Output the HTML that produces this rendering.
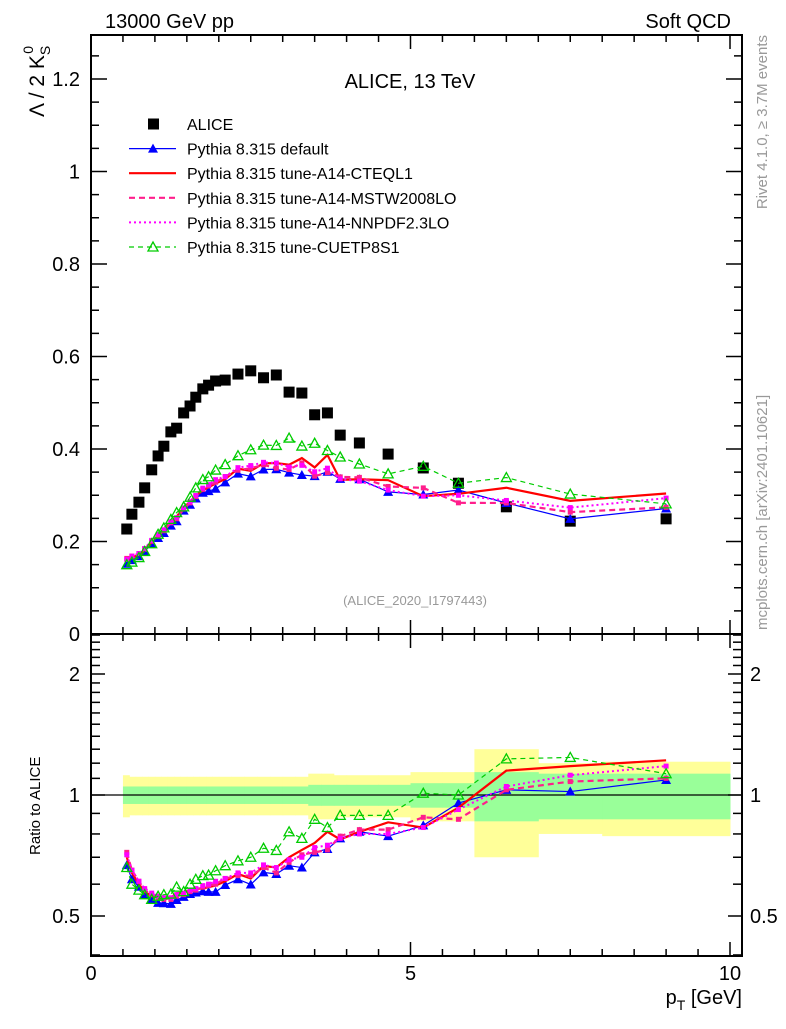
<!DOCTYPE html>
<html><head><meta charset="utf-8">
<style>
body{margin:0;background:#fff;}
svg text{font-family:"Liberation Sans",sans-serif;}
</style></head>
<body>
<svg id="chart" width="786" height="1024" xmlns="http://www.w3.org/2000/svg">
<rect width="786" height="1024" fill="#fff"/>
<g id="ratioBands"></g>
<g id="marks"></g>
<g id="axes"></g>
<text x="105" y="28" font-size="20">13000 GeV pp</text>
<text x="731" y="28" font-size="20" text-anchor="end">Soft QCD</text>
<text x="410" y="88" font-size="20" text-anchor="middle">ALICE, 13 TeV</text>
<text x="415" y="605" font-size="13" fill="#999" text-anchor="middle">(ALICE_2020_I1797443)</text>
<text transform="translate(767,35) rotate(-90)" font-size="15" fill="#999" text-anchor="end">Rivet 4.1.0, ≥ 3.7M events</text>
<text transform="translate(767,630) rotate(-90)" font-size="15" fill="#999">mcplots.cern.ch [arXiv:2401.10621]</text>
<text transform="translate(44,117) rotate(-90)" font-size="21">Λ / 2 K<tspan font-size="14" dy="6">S</tspan><tspan font-size="14" dx="-8" dy="-17">0</tspan></text>
<text transform="translate(40,855) rotate(-90)" font-size="15">Ratio to ALICE</text>
<text x="742" y="1004" font-size="20" text-anchor="end">p<tspan font-size="14" dy="6">T</tspan><tspan dy="-6"> [GeV]</tspan></text>
<g id="legend"></g>
</svg>
<script>
const xVals=[0.56,0.64,0.75,0.84,0.95,1.05,1.14,1.25,1.34,1.45,1.55,1.64,1.75,1.84,1.95,2.1,2.3,2.5,2.7,2.9,3.1,3.3,3.5,3.7,3.9,4.2,4.65,5.2,5.75,6.5,7.5,9.0];
const binEdges=[0.5,0.6,0.7,0.8,0.9,1.0,1.1,1.2,1.3,1.4,1.5,1.6,1.7,1.8,1.9,2.0,2.2,2.4,2.6,2.8,3.0,3.2,3.4,3.6,3.8,4.0,4.5,5.0,5.5,6.0,7.0,8.0,10.0];
const aliceVals=[0.227,0.259,0.285,0.316,0.355,0.385,0.406,0.437,0.445,0.478,0.493,0.512,0.530,0.538,0.547,0.549,0.562,0.569,0.554,0.560,0.523,0.521,0.474,0.478,0.430,0.413,0.389,0.359,0.326,0.275,0.244,0.249];
const statErr=[0.05,0.05,0.05,0.05,0.05,0.05,0.05,0.05,0.05,0.05,0.05,0.05,0.05,0.05,0.05,0.05,0.05,0.05,0.05,0.05,0.05,0.05,0.06,0.06,0.06,0.06,0.06,0.07,0.07,0.14,0.13,0.13];
const totErr=[0.12,0.11,0.11,0.11,0.11,0.11,0.11,0.11,0.11,0.11,0.11,0.11,0.11,0.11,0.11,0.11,0.11,0.11,0.11,0.11,0.11,0.11,0.13,0.13,0.12,0.12,0.12,0.14,0.14,0.3,0.2,0.21];
const ratioDefault=[0.669,0.617,0.591,0.567,0.548,0.539,0.538,0.536,0.548,0.558,0.567,0.572,0.576,0.574,0.574,0.597,0.617,0.599,0.642,0.636,0.667,0.660,0.72,0.734,0.78,0.81,0.79,0.84,0.955,1.03,1.02,1.09];
const ratioCTEQ=[0.70,0.64,0.60,0.575,0.56,0.555,0.55,0.555,0.57,0.572,0.58,0.585,0.585,0.59,0.595,0.61,0.636,0.62,0.666,0.66,0.70,0.73,0.76,0.81,0.775,0.81,0.855,0.83,0.93,1.15,1.18,1.22];
const ratioMSTW=[0.72,0.65,0.61,0.58,0.565,0.555,0.55,0.55,0.56,0.565,0.575,0.58,0.59,0.595,0.60,0.62,0.63,0.63,0.66,0.64,0.68,0.71,0.72,0.73,0.79,0.82,0.82,0.88,0.87,1.03,1.08,1.10];
const ratioNNPDF=[0.71,0.65,0.61,0.585,0.57,0.56,0.555,0.555,0.565,0.57,0.58,0.585,0.595,0.60,0.61,0.62,0.64,0.64,0.67,0.66,0.69,0.70,0.74,0.75,0.78,0.80,0.80,0.83,0.92,1.05,1.12,1.18];
const ratioCUETP=[0.66,0.60,0.58,0.565,0.55,0.56,0.565,0.567,0.59,0.575,0.60,0.617,0.63,0.632,0.648,0.667,0.686,0.70,0.737,0.728,0.81,0.78,0.87,0.83,0.89,0.89,0.89,1.01,1.0,1.23,1.24,1.13];
const mainTicks=["0","0.2","0.4","0.6","0.8","1","1.2"];
const ratioTicks=["0.5","1","2"];
const xTicks=["0","5","10"];

const NS="http://www.w3.org/2000/svg";
const L=91,R=742,T=35,MB=634,RB=956;
const X=v=>91+v*63.9;
const Y=v=>634-v*462.5;
const RY=r=>795-121*Math.log2(r);
function mk(tag,attrs,parent){const e=document.createElementNS(NS,tag);for(const k in attrs)e.setAttribute(k,attrs[k]);parent.appendChild(e);return e;}
const bands=document.getElementById('ratioBands'),marks=document.getElementById('marks'),axes=document.getElementById('axes'),legend=document.getElementById('legend');

const edges=binEdges;
for(let i=0;i<xVals.length;i++){
  const y=mk('rect',{x:X(edges[i]),width:X(edges[i+1])-X(edges[i])+0.5,y:RY(1+totErr[i]),height:RY(1-totErr[i])-RY(1+totErr[i]),fill:'#ffff99'},bands);
  
  
}
for(let i=0;i<xVals.length;i++){
  const g=mk('rect',{x:X(edges[i]),width:X(edges[i+1])-X(edges[i])+0.5,y:RY(1+statErr[i]),height:RY(1-statErr[i])-RY(1+statErr[i]),fill:'#99ff99'},bands);
  
  
}
const one=mk('line',{x1:L,x2:R,y1:RY(1),y2:RY(1),stroke:'#000','stroke-width':1.2},bands);



const series=[
 {name:'default',r:ratioDefault,color:'#0000ff',w:1.2,dash:'',marker:'tri'},
 {name:'cteql1',r:ratioCTEQ,color:'#ff0000',w:2.2,dash:'',marker:'none'},
 {name:'mstw2008lo',r:ratioMSTW,color:'#ff1e8c',w:2.2,dash:'6,4',marker:'sq'},
 {name:'nnpdf23lo',r:ratioNNPDF,color:'#ff00ff',w:2,dash:'2,3',marker:'sq'},
 {name:'cuetp8s1',r:ratioCUETP,color:'#00cc00',w:1.2,dash:'5,4',marker:'otri'}
];
function drawMarker(s,cx,cy,g){
  let e=null;
  if(s.marker==='tri')e=mk('path',{d:`M${cx-5},${cy+4}L${cx+5},${cy+4}L${cx},${cy-5}Z`,fill:s.color},g);
  else if(s.marker==='otri')e=mk('path',{d:`M${cx-5},${cy+4}L${cx+5},${cy+4}L${cx},${cy-5}Z`,fill:'none',stroke:s.color,'stroke-width':1.3},g);
  else if(s.marker==='sq')e=mk('rect',{x:cx-2.5,y:cy-2.5,width:5,height:5,fill:s.color},g);
  if(e){}
}
aliceVals.forEach((v,i)=>{
  const s=mk('rect',{x:X(xVals[i])-5.5,y:Y(v)-5.5,width:11,height:11,fill:'#000'},marks);
  
  
});
series.forEach(s=>{
  const g=mk('g',{},marks);
  
  
  const mainPts=s.r.map((r,i)=>X(xVals[i])+','+Y(r*aliceVals[i])).join(' ');
  const ratioPts=s.r.map((r,i)=>X(xVals[i])+','+RY(r)).join(' ');
  const a={fill:'none',stroke:s.color,'stroke-width':s.w};if(s.dash)a['stroke-dasharray']=s.dash;
  const l1=mk('polyline',Object.assign({points:mainPts},a),g);
  
  
  const l2=mk('polyline',Object.assign({points:ratioPts},a),g);
  
  
  s.r.forEach((r,i)=>{drawMarker(s,X(xVals[i]),Y(r*aliceVals[i]),g);drawMarker(s,X(xVals[i]),RY(r),g);});
});

[[T,MB],[MB,RB]].forEach(([t,b],k)=>{
  const f=mk('rect',{x:L,y:t,width:R-L,height:b-t,fill:'none',stroke:'#000','stroke-width':2},axes);
  
  
  for(let v=0;v<=10.01;v+=0.5){
    const major=Math.abs(v-Math.round(v/5)*5)<0.01, len=major?14:7;
    mk('line',{x1:X(v),x2:X(v),y1:b,y2:b-len,stroke:'#000','stroke-width':1.5},axes);
    mk('line',{x1:X(v),x2:X(v),y1:t,y2:t+len,stroke:'#000','stroke-width':1.5},axes);
  }
});
for(let v=0;v<=1.3;v+=0.05){
  const major=Math.abs(v/0.2-Math.round(v/0.2))<0.01, len=major?16:8;
  const y=Y(v); if(y<T)continue;
  mk('line',{x1:L,x2:L+len,y1:y,y2:y,stroke:'#000','stroke-width':1.5},axes);
  mk('line',{x1:R,x2:R-len,y1:y,y2:y,stroke:'#000','stroke-width':1.5},axes);
}
mainTicks.forEach((t,i)=>{
  const e=mk('text',{x:80,y:Y(parseFloat(t))+7,'font-size':20,'text-anchor':'end'},axes);
  e.textContent=t;
  
  
});
[0.4,0.5,0.6,0.7,0.8,0.9,1,1.1,1.2,1.3,1.4,1.5,1.6,1.7,1.8,1.9,2,2.1,2.2,2.3,2.4,2.5].forEach(r=>{
  const major=[0.5,1,2].includes(r), len=major?14:9, y=RY(r);
  if(y<MB||y>RB)return;
  mk('line',{x1:L,x2:L+len,y1:y,y2:y,stroke:'#000','stroke-width':1.5},axes);
  mk('line',{x1:R,x2:R-len,y1:y,y2:y,stroke:'#000','stroke-width':1.5},axes);
});
ratioTicks.forEach(t=>{
  const y=RY(parseFloat(t))+7;
  const a=mk('text',{x:80,y:y,'font-size':20,'text-anchor':'end'},axes);a.textContent=t;
  
  
  const b=mk('text',{x:750,y:y,'font-size':20},axes);b.textContent=t;
  
  
});
xTicks.forEach(t=>{
  const e=mk('text',{x:X(parseFloat(t)),y:980,'font-size':20,'text-anchor':'middle'},axes);
  e.textContent=t;
  
  
});

const legItems=[['ALICE',null],['Pythia 8.315 default',series[0]],['Pythia 8.315 tune-A14-CTEQL1',series[1]],['Pythia 8.315 tune-A14-MSTW2008LO',series[2]],['Pythia 8.315 tune-A14-NNPDF2.3LO',series[3]],['Pythia 8.315 tune-CUETP8S1',series[4]]];
legItems.forEach(([lab,s],i)=>{
  const y=124+i*24.6;
  const g=mk('g',{},legend);
  
  
  if(!s){mk('rect',{x:148,y:y-5.5,width:11,height:11,fill:'#000'},g);}
  else{
    const a={x1:129,x2:176,y1:y,y2:y,stroke:s.color,'stroke-width':s.w};if(s.dash)a['stroke-dasharray']=s.dash;
    mk('line',a,g);
    if(s.marker==='tri'||s.marker==='otri')drawMarker(s,153,y,g);
  }
  const t=mk('text',{x:187,y:y+6,'font-size':16},g);t.textContent=lab;
});
</script>
</body></html>
